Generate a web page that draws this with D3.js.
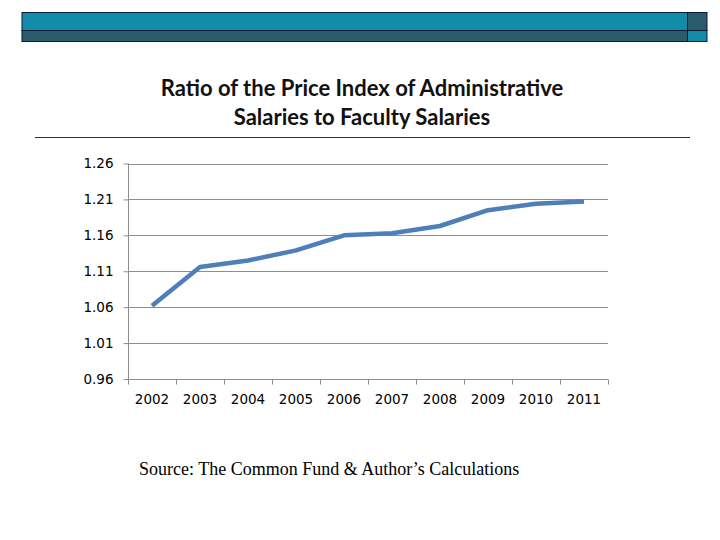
<!DOCTYPE html>
<html lang="en">
<head>
<meta charset="utf-8">
<title>Ratio of Price Index</title>
<script src="https://cdn.jsdelivr.net/npm/d3@7"></script>
<style>
	body { margin: 0; background: #fff; }
	.grid line { stroke: #8e8e8e; stroke-width: 1; }
	.axis text { font-family: "DejaVu Sans", Verdana, sans-serif; font-size: 13.5px; fill: #000; }
	.axis path, .axis line { stroke: #8e8e8e; }
</style>
</head>
<body>
<div id="chart"></div>
<script>
	var years = ["2002", "2003", "2004", "2005", "2006", "2007", "2008", "2009", "2010", "2011"];
	var ratio = [1.062, 1.116, 1.125, 1.139, 1.160, 1.163, 1.173, 1.195, 1.204, 1.207];
	var yTicks = [0.96, 1.01, 1.06, 1.11, 1.16, 1.21, 1.26];

	var w = 720, h = 540;
	var svg = d3.select("#chart").append("svg")
		.attr("width", w)
		.attr("height", h);

	// slide header bars
	svg.append("rect").attr("x", 22).attr("y", 12.5).attr("width", 665.5).attr("height", 18)
		.attr("fill", "#128ca8").attr("stroke", "#0b1a36").attr("stroke-width", 1);
	svg.append("rect").attr("x", 22).attr("y", 30.5).attr("width", 665.5).attr("height", 11)
		.attr("fill", "#2a5c6c").attr("stroke", "#0b1a36").attr("stroke-width", 1);
	svg.append("rect").attr("x", 687.5).attr("y", 12.5).attr("width", 19.5).attr("height", 18)
		.attr("fill", "#2a5c6c").attr("stroke", "#0b1a36").attr("stroke-width", 1);
	svg.append("rect").attr("x", 687.5).attr("y", 30.5).attr("width", 19.5).attr("height", 11)
		.attr("fill", "#128ca8").attr("stroke", "#0b1a36").attr("stroke-width", 1);

	// title
	var title = svg.append("text")
		.attr("text-anchor", "middle")
		.style("font-family", "Lato, 'Open Sans', sans-serif")
		.style("font-size", "22px")
		.style("font-weight", "bold")
		.attr("fill", "#111");
	title.append("tspan").attr("x", 362).attr("y", 96).text("Ratio of the Price Index of Administrative");
	title.append("tspan").attr("x", 362).attr("y", 125).text("Salaries to Faculty Salaries");

	svg.append("line").attr("x1", 35).attr("x2", 690).attr("y1", 137.5).attr("y2", 137.5)
		.attr("stroke", "#333").attr("stroke-width", 1);

	// plot area
	var pLeft = 128, pRight = 608, pTop = 163.5, pBottom = 379;

	var x = d3.scaleBand().domain(years).range([pLeft, pRight]);
	var y = d3.scaleLinear().domain([0.96, 1.26]).range([pBottom, pTop]);

	svg.append("g").attr("class", "grid")
		.selectAll("line")
		.data(yTicks.slice(1))
		.enter().append("line")
		.attr("x1", pLeft).attr("x2", pRight)
		.attr("y1", function(d) { return Math.round(y(d)) + 0.5; })
		.attr("y2", function(d) { return Math.round(y(d)) + 0.5; });

	var yAxis = svg.append("g").attr("class", "axis")
		.attr("transform", "translate(" + (pLeft + 0.5) + ",0)")
		.call(d3.axisLeft(y).tickValues(yTicks).tickFormat(d3.format(".2f")).tickSize(5).tickPadding(10));
	yAxis.select(".domain").remove();
	yAxis.append("line").attr("x1", 0).attr("x2", 0).attr("y1", pTop).attr("y2", pBottom + 5)
		.attr("stroke", "#8e8e8e");

	var xAxis = svg.append("g").attr("class", "axis")
		.attr("transform", "translate(0," + (pBottom + 0.5) + ")")
		.call(d3.axisBottom(x).tickSize(0).tickPadding(15));
	xAxis.select(".domain").attr("d", "M" + pLeft + ",0H" + pRight);
	xAxis.selectAll(".bound")
		.data(years.concat(["end"]))
		.enter().append("line")
		.attr("x1", function(d, i) { return pLeft + i * x.bandwidth() + 0.5; })
		.attr("x2", function(d, i) { return pLeft + i * x.bandwidth() + 0.5; })
		.attr("y1", 0).attr("y2", 5)
		.attr("stroke", "#8e8e8e");

	// line
	var line = d3.line()
		.x(function(d, i) { return x(years[i]) + x.bandwidth() / 2; })
		.y(function(d) { return y(d); });

	svg.append("path")
		.datum(ratio)
		.attr("d", line)
		.attr("fill", "none")
		.attr("stroke", "#4f7fb8")
		.attr("stroke-width", 4.5)
		.attr("stroke-linejoin", "round");

	// source
	svg.append("text")
		.attr("x", 139).attr("y", 475)
		.style("font-family", "'Liberation Serif', 'Times New Roman', serif")
		.style("font-size", "18px")
		.attr("fill", "#000")
		.text("Source: The Common Fund & Author\u2019s Calculations");
</script>
</body>
</html>
